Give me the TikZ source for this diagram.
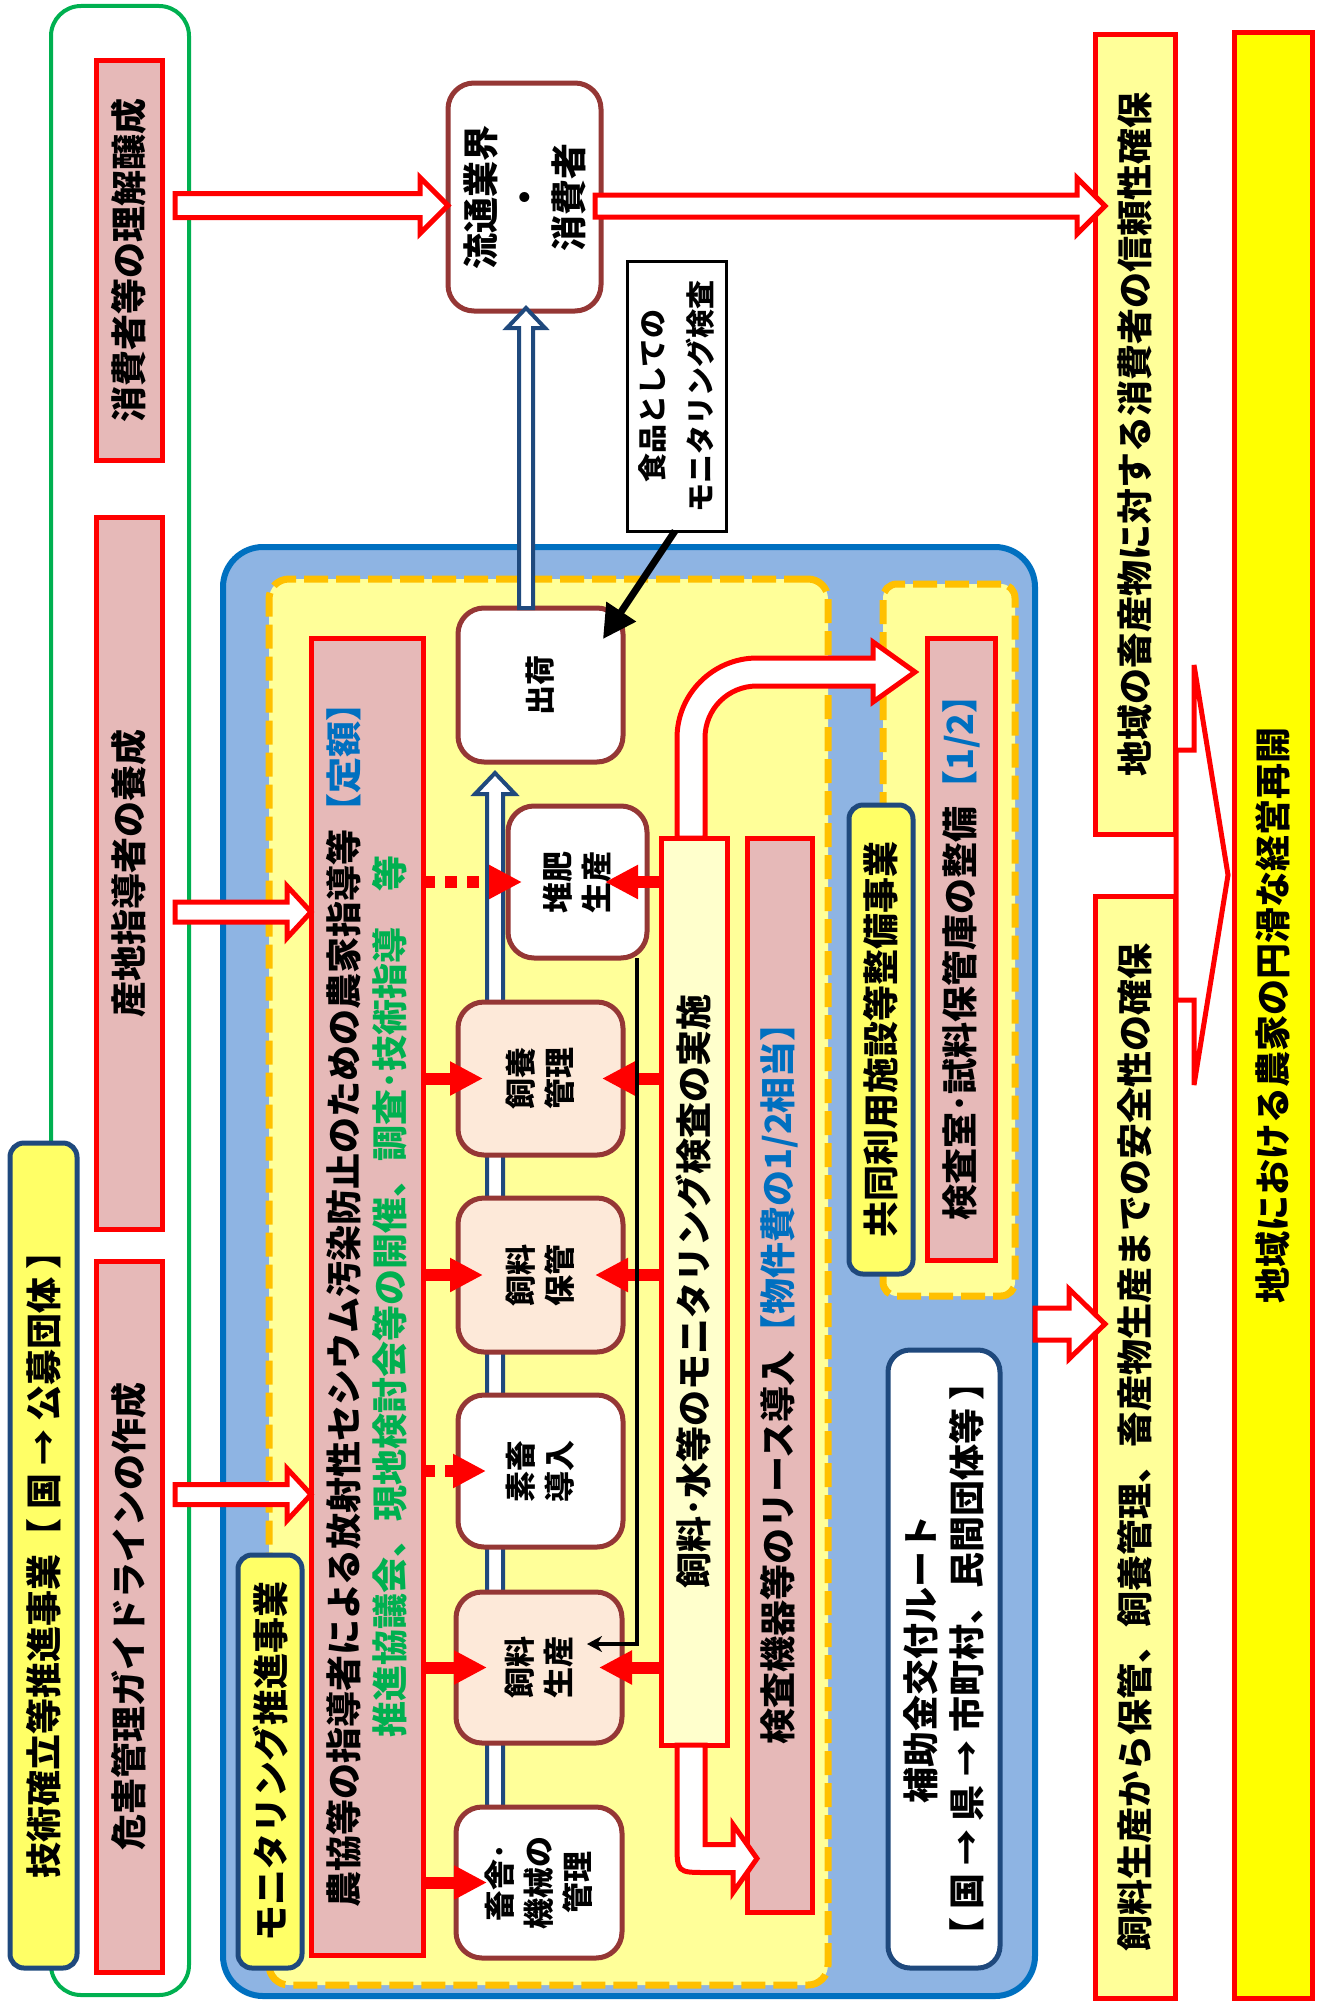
\documentclass[tikz,border=0pt]{standalone}
\usepackage{fontspec}
\setmainfont{Noto Sans CJK JP}
\usepackage{tikz}
\usetikzlibrary{arrows.meta, calc}
\definecolor{panelblue}{RGB}{0,112,192}
\definecolor{panelfill}{RGB}{142,180,227}
\definecolor{dashorange}{RGB}{255,192,0}
\definecolor{paleyellow}{RGB}{255,255,153}
\definecolor{labelyellow}{RGB}{255,255,102}
\definecolor{creamyellow}{RGB}{255,255,204}
\definecolor{goalyellow}{RGB}{255,255,0}
\definecolor{pinkfill}{RGB}{230,185,184}
\definecolor{peachfill}{RGB}{253,233,217}
\definecolor{boxbrown}{RGB}{149,55,53}
\definecolor{navyline}{RGB}{31,73,125}
\definecolor{noteblue}{RGB}{0,112,192}
\definecolor{notegreen}{RGB}{0,176,80}
\pgfdeclarelayer{panels}
\pgfdeclarelayer{flow}
\pgfsetlayers{panels,flow,main}

\begin{document}
\begin{tikzpicture}[x=1pt, y=-1pt]
    % Styles
    \tikzstyle{txt} = [font=\bfseries\fontsize{36}{46}\selectfont]
    \tikzstyle{upright} = [rotate=90, inner sep=0pt, outer sep=0pt, align=center, txt]
    \tikzstyle{pinkbox} = [upright, draw=red, fill=pinkfill, line width=5pt]
    \tikzstyle{goalbox} = [upright, draw=red, fill=paleyellow, line width=5pt]
    \tikzstyle{tagbox} = [upright, draw=navyline, fill=labelyellow, line width=5pt, rounded corners=14pt]
    \tikzstyle{stepbox} = [upright, draw=boxbrown, fill=white, line width=5pt, rounded corners=26pt, font=\bfseries\fontsize{31}{39}\selectfont]
    \tikzstyle{notebox} = [upright, draw=black, fill=white, line width=3pt, font=\bfseries\fontsize{29}{48}\selectfont]
    \tikzstyle{panel} = [inner sep=0pt, outer sep=0pt]
    \tikzstyle{blockarrow} = [draw=red, fill=white, line width=5pt]
    \tikzstyle{flowarrow} = [draw=navyline, fill=white, line width=4pt]
    \tikzstyle{redarrow} = [draw=red, line width=12pt, -{Triangle[length=33pt, width=32pt]}]
    \tikzstyle{reddots} = [redarrow, dash pattern=on 12pt off 10pt]
    \tikzstyle{feedline} = [draw=black, line width=4pt, -{Stealth[length=15pt, width=16pt]}]
    \tikzset{
      blockR/.style n args={3}{to path={let \p1=(\tikztostart), \p2=(\tikztotarget) in
        (\x1,\y1+#1) -- (\x2-#3,\y1+#1) -- (\x2-#3,\y1+#2) -- (\x2,\y1)
        -- (\x2-#3,\y1-#2) -- (\x2-#3,\y1-#1) -- (\x1,\y1-#1) -- cycle}},
      blockU/.style n args={3}{to path={let \p1=(\tikztostart), \p2=(\tikztotarget) in
        (\x1-#1,\y1) -- (\x1-#1,\y2-#3) -- (\x1-#2,\y2-#3) -- (\x1,\y2)
        -- (\x1+#2,\y2-#3) -- (\x1+#1,\y2-#3) -- (\x1+#1,\y1) -- cycle}}
    }
    \useasboundingbox (0,0) rectangle (1322,2002);

    % Panels
    \begin{pgfonlayer}{panels}
    \node[panel, draw=notegreen, line width=4pt, rounded corners=30pt, minimum width=138pt, minimum height=1989pt] (gijutsuwaku) at (120,1000.5) {};
    \node[panel, draw=panelblue, fill=panelfill, line width=6pt, rounded corners=40pt, minimum width=812pt, minimum height=1449pt] (shien) at (629,1271.5) {};
    \node[panel, draw=dashorange, fill=paleyellow, line width=7pt, dash pattern=on 24pt off 8pt, rounded corners=20pt, minimum width=559pt, minimum height=1406pt] (suishin) at (548.5,1282) {};
    \node[panel, draw=dashorange, fill=paleyellow, line width=7pt, dash pattern=on 24pt off 8pt, rounded corners=14pt, minimum width=132pt, minimum height=712pt] (kyodo) at (949,940) {};
    \end{pgfonlayer}

    % Nodes
    \node[tagbox, minimum width=825pt, minimum height=67pt] (gijutsu) at (43.5,1555.5) {技術確立等推進事業【 国 → 公募団体 】};
    \node[pinkbox, minimum width=399pt, minimum height=66pt] (rikai) at (129,260.5) {消費者等の理解醸成};
    \node[pinkbox, minimum width=712pt, minimum height=66pt] (shidousha) at (129,873) {産地指導者の養成};
    \node[pinkbox, minimum width=711pt, minimum height=66pt] (kigai) at (129,1616.5) {危害管理ガイドラインの作成};

    \node[stepbox, minimum width=228pt, minimum height=153pt, txt, font=\bfseries\fontsize{36}{44}\selectfont] (ryutsu) at (524.5,197) {流通業界\\・\\消費者};
    \node[notebox, minimum width=270pt, minimum height=99pt] (kensa) at (676.5,396) {食品としての\\モニタリング検査};

    \node[pinkbox, minimum width=1317pt, minimum height=112pt] (noukyo) at (367,1296.5) {農協等の指導者による放射性セシウム汚染防止のための農家指導等{\color{noteblue}【定額】}\\{\color{notegreen}推進協議会、現地検討会等の開催、調査･技術指導　等}};
    \node[tagbox, minimum width=413pt, minimum height=64pt] (monisuishin) at (270,1761.5) {モニタリング推進事業};

    \node[stepbox, minimum width=154pt, minimum height=165pt, font=\bfseries\fontsize{30}{39}\selectfont] (shukka) at (540.5,685) {出荷};
    \node[stepbox, minimum width=152pt, minimum height=139pt] (taihi) at (577.5,882) {堆肥\\生産};
    \node[stepbox, fill=peachfill, minimum width=153pt, minimum height=165pt] (shiyou) at (540.5,1078.5) {飼養\\管理};
    \node[stepbox, fill=peachfill, minimum width=154pt, minimum height=165pt] (hokan) at (540.5,1275) {飼料\\保管};
    \node[stepbox, minimum width=152pt, minimum height=165pt] (sochiku) at (540.5,1471) {素畜\\導入};
    \node[stepbox, fill=peachfill, minimum width=151pt, minimum height=166pt] (seisan) at (539,1667.5) {飼料\\生産};
    \node[stepbox, minimum width=151pt, minimum height=166pt] (chikusha) at (539,1882.5) {畜舎･\\機械の\\管理};

    \node[pinkbox, fill=creamyellow, minimum width=907pt, minimum height=66pt] (kanshi) at (694,1291.5) {飼料･水等のモニタリング検査の実施};
    \node[pinkbox, minimum width=1074pt, minimum height=65pt] (lease) at (779.5,1375) {検査機器等のリース導入{\color{noteblue}【物件費の1/2相当】}};
    \node[tagbox, minimum width=469pt, minimum height=64pt] (kyodojigyo) at (881,1039.5) {共同利用施設等整備事業};
    \node[pinkbox, minimum width=622pt, minimum height=68pt] (kensashitsu) at (961,949) {検査室･試料保管庫の整備{\color{noteblue}【1/2】}};
    \node[tagbox, fill=white, rounded corners=22pt, minimum width=618pt, minimum height=112pt] (route) at (944,1659) {補助金交付ルート\\【 国 → 県 → 市町村、民間団体等 】};

    \node[goalbox, fill=goalyellow, minimum width=1965pt, minimum height=78pt] (saikai) at (1273,1015.5) {地域における農家の円滑な経営再開};
    \node[goalbox, minimum width=799pt, minimum height=80pt] (shinrai) at (1135,434.5) {地域の畜産物に対する消費者の信頼性確保};
    \node[goalbox, minimum width=1102pt, minimum height=80pt] (anzen) at (1135,1447) {飼料生産から保管、飼養管理、畜産物生産までの安全性の確保};
    \coordinate (kakuho) at (1176,875);

    % Arrows
    \begin{pgfonlayer}{flow}
    \draw[blockarrow] (kakuho) to[blockR={125pt}{210pt}{34pt}] ([xshift=-6pt]saikai.north);
    \draw[flowarrow] ([xshift=-44pt]chikusha.center) to[blockU={8pt}{20pt}{21pt}] ([yshift=-11pt]shukka.west);
    \end{pgfonlayer}
    \draw[blockarrow] ([xshift=13pt, yshift=55pt]rikai.south) to[blockR={12pt}{28pt}{28pt}] (ryutsu.north);
    \draw[blockarrow] ([xshift=13pt, yshift=-39pt]shidousha.south) to[blockR={10pt}{26pt}{24pt}] (noukyo.north);
    \draw[blockarrow] ([xshift=13pt, yshift=122pt]kigai.south) to[blockR={10pt}{26pt}{24pt}] (noukyo.north);
    \draw[blockarrow] ([xshift=-6pt, yshift=-9pt]ryutsu.south) to[blockR={11pt}{28pt}{28pt}] ([xshift=10pt]shinrai.north);
    \draw[blockarrow] ([yshift=-52.5pt]shien.east) to[blockR={16pt}{35pt}{36pt}] ([xshift=10pt]anzen.north);
    \draw[flowarrow] ([xshift=-14.5pt]shukka.east) to[blockU={7pt}{19pt}{20pt}] ([yshift=3pt]ryutsu.west);

    \draw[blockarrow] let \p1=([xshift=-3pt]kanshi.east), \p2=([shift={(-12,-277)}]kensashitsu.north) in
      (\x1-14pt,\y1) -- (\x1-14pt,\y2-66pt) .. controls (\x1-14pt,\y2-22pt) and (\x1+22pt,\y2+14pt) .. (\x1+66pt,\y2+14pt)
      -- (\x2-42pt,\y2+14pt) -- (\x2-42pt,\y2+30pt) -- (\x2,\y2) -- (\x2-42pt,\y2-30pt) -- (\x2-42pt,\y2-14pt)
      -- (\x1+66pt,\y2-14pt) .. controls (\x1+37pt,\y2-14pt) and (\x1+14pt,\y2-37pt) .. (\x1+14pt,\y2-66pt) -- (\x1+14pt,\y1) -- cycle;
    \draw[blockarrow] let \p1=([xshift=-3pt]kanshi.west), \p2=([shift={(10,483.5)}]lease.north) in
      (\x1-14pt,\y1) -- (\x1-14pt,\y2+16pt) .. controls (\x1-14pt,\y2-14pt) .. (\x1+16pt,\y2-14pt)
      -- (\x2-24pt,\y2-14pt) -- (\x2-24pt,\y2-34pt) -- (\x2,\y2) -- (\x2-24pt,\y2+34pt) -- (\x2-24pt,\y2+14pt)
      -- (\x1+14pt,\y2+14pt) -- (\x1+14pt,\y1) -- cycle;

    \draw[reddots] (noukyo.south |- taihi.center) -- ([xshift=14pt]taihi.north);
    \draw[redarrow] (noukyo.south |- shiyou.center) -- ([xshift=25pt]shiyou.north);
    \draw[redarrow] (noukyo.south |- hokan.center) -- ([xshift=25pt]hokan.north);
    \draw[reddots] (noukyo.south |- sochiku.center) -- ([xshift=28pt]sochiku.north);
    \draw[redarrow] (noukyo.south |- seisan.center) -- ([xshift=31pt]seisan.north);
    \draw[redarrow] (noukyo.south |- chikusha.center) -- ([xshift=31pt]chikusha.north);

    \draw[redarrow] (kanshi.north |- taihi.center) -- ([xshift=-42pt]taihi.south);
    \draw[redarrow] (kanshi.north |- shiyou.center) -- ([xshift=-21pt]shiyou.south);
    \draw[redarrow] (kanshi.north |- hokan.center) -- ([xshift=-28pt]hokan.south);
    \draw[redarrow] (kanshi.north |- seisan.center) -- ([xshift=-23pt]seisan.south);

    \draw[feedline] ([xshift=59.5pt]taihi.west) |- ([shift={(-35,-23.5)}]seisan.south);
    \draw[draw=black, line width=7pt, -{Triangle[length=33pt, width=34pt]}] ([xshift=-1.5pt]kensa.west) -- ([shift={(62.5,31)}]shukka.east);
\end{tikzpicture}
\end{document}
